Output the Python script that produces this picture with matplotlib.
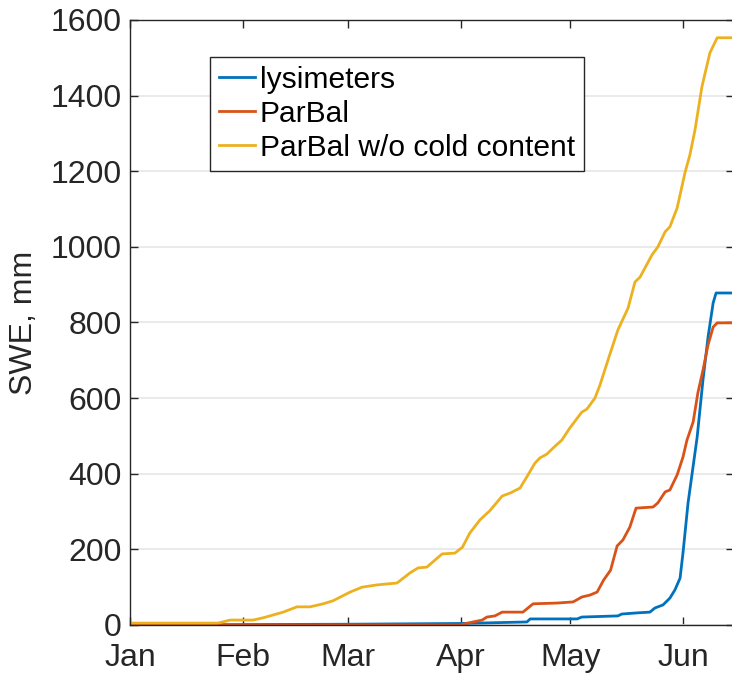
import numpy as np
import matplotlib.pyplot as plt

# days since 1 Jan (leap year), SWE in mm
lys_day = [0.0, 60.0, 91.0, 109.1, 110.0, 122.9, 124.2, 134.1, 135.2, 139.4,
           142.9, 144.3, 146.5, 148.4, 149.8, 151.2, 152.0, 153.4, 155.9,
           157.5, 158.9, 160.3, 161.1, 166.0]
lys_swe = [0, 2, 4, 8, 16, 16, 21, 24, 29, 32,
           34, 45, 53, 71, 93, 124, 190, 323, 497,
           648, 762, 852, 878, 878]

pb_day = [0.0, 91.0, 91.5, 94.3, 96.8, 98.1, 100.3, 102.3, 108.0, 110.8,
          117.4, 121.8, 124.2, 126.4, 128.4, 130.2, 132.1, 133.9, 135.5,
          137.4, 139.1, 143.8, 145.1, 147.1, 148.4, 150.4, 152.0, 153.1,
          154.8, 156.1, 157.5, 158.9, 160.3, 161.4, 166.0]
pb_swe = [0, 0, 2, 8, 13, 21, 24, 34, 34, 56,
          58, 61, 74, 79, 87, 119, 145, 209, 225,
          259, 309, 312, 323, 352, 357, 397, 444, 489,
          537, 614, 674, 741, 788, 799, 799]

nocc_day = [0.0, 24.2, 27.5, 33.8, 36.6, 42.1, 45.9, 49.5, 53.1, 55.8,
            60.5, 63.8, 67.9, 73.4, 77.0, 79.2, 81.6, 85.8, 89.3, 91.4,
            93.4, 96.2, 98.9, 102.3, 104.5, 107.2, 109.1, 111.3, 112.7, 114.6,
            116.3, 118.7, 120.9, 124.2, 125.6, 127.8, 129.2, 131.4, 134.1,
            136.9, 138.8, 140.2, 143.5, 145.1, 147.1, 148.4, 150.4, 152.6,
            153.9, 155.3, 157.2, 158.1, 159.4, 161.4, 166.0]
nocc_swe = [5, 5, 13, 13, 19, 34, 48, 48, 56, 64,
            87, 100, 106, 111, 138, 151, 153, 188, 190, 206,
            243, 278, 302, 341, 349, 362, 392, 428, 442, 452,
            468, 489, 521, 563, 571, 600, 635, 701, 780,
            838, 907, 920, 979, 1000, 1040, 1053, 1103, 1198,
            1243, 1309, 1423, 1460, 1513, 1553, 1553]

month_days = [0, 31, 60, 91, 121, 152]
month_labels = ['Jan', 'Feb', 'Mar', 'Apr', 'May', 'Jun']

plt.rcParams['font.family'] = ['Liberation Sans', 'DejaVu Sans']
edge = '#262626'

fig = plt.figure(figsize=(7.32, 6.75), dpi=100)
ax = fig.add_axes([0.1776, 0.0741, 0.825, 0.8963])

ax.plot(lys_day, lys_swe, color='#0072BD', lw=2, label='lysimeters')
ax.plot(pb_day, pb_swe, color='#D95319', lw=2, label='ParBal')
ax.plot(nocc_day, nocc_swe, color='#EDB120', lw=2, label='ParBal w/o cold content')

ax.set_xlim(0, 166)
ax.set_ylim(0, 1600)
ax.set_xticks(month_days)
ax.set_xticklabels(month_labels)
ax.set_yticks(np.arange(0, 1601, 200))
ax.set_ylabel('SWE, mm', fontsize=23, color=edge, labelpad=8)

ax.yaxis.grid(True, color='#e6e6e6', lw=1.2)
ax.set_axisbelow(True)
ax.tick_params(direction='in', top=True, right=True, length=6, width=1,
               colors=edge, labelsize=23)
ax.tick_params(axis='x', pad=13)
ax.tick_params(axis='y', pad=6)
for s in ax.spines.values():
    s.set_color(edge)
    s.set_linewidth(1)

leg = ax.legend(loc='upper left', bbox_to_anchor=(0.1325, 0.939),
                borderaxespad=0, fontsize=21.6, handlelength=1.2,
                handletextpad=0.15, borderpad=0.3, labelspacing=0.2,
                fancybox=False, framealpha=1, edgecolor=edge)
leg.get_frame().set_linewidth(1)
for t in leg.get_texts():
    t.set_color('black')

fig.savefig('out.png', dpi=100)
